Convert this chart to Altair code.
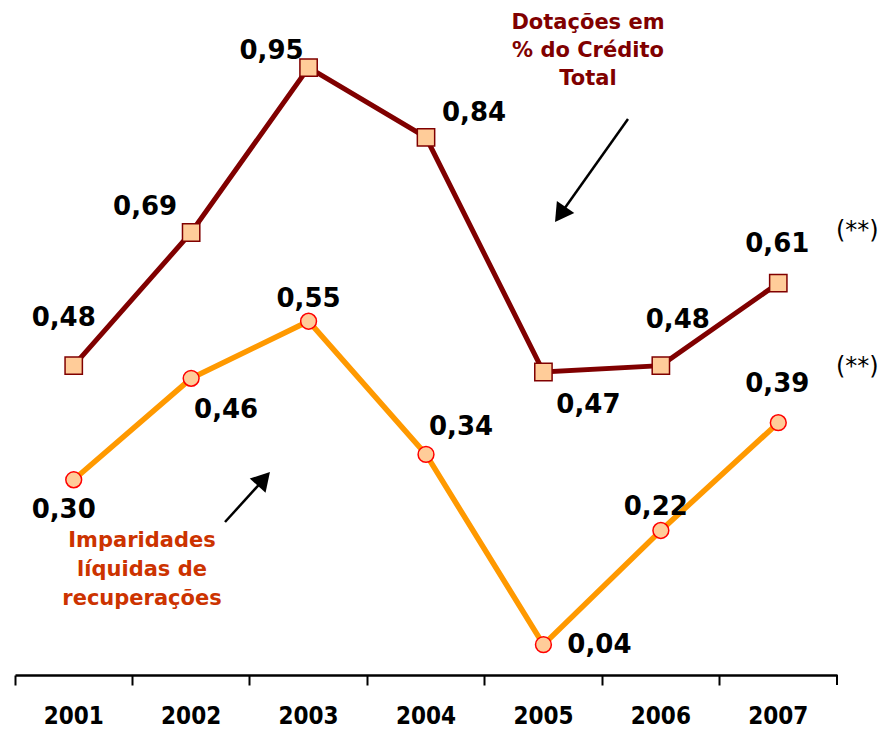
import altair as alt
import pandas as pd

# ---- data ----
years = ["2001", "2002", "2003", "2004", "2005", "2006", "2007"]
dotacoes = [0.48, 0.69, 0.95, 0.84, 0.47, 0.48, 0.61]
imparidades = [0.30, 0.46, 0.55, 0.34, 0.04, 0.22, 0.39]

# ---- layout for value labels (pixel offsets from each point) ----
dot_dx = [-10, -46, -37, 48, 45, 17, -1]
dot_dy = [-48, -25, -17, -24, 33, -46, -39]
imp_dx = [-10, 35, 0, 35, 56, -5, -1]
imp_dy = [30, 32, -22, -27, 0, -23, -39]

W, H = 822, 667
DARK_RED = "#800000"
ORANGE = "#FF9900"
FILL = "#FFCC99"
LABEL_FONT = "DejaVu Sans"

df_d = pd.DataFrame({"year": years, "value": dotacoes})
df_i = pd.DataFrame({"year": years, "value": imparidades})

x_enc = alt.X(
    "year:O",
    scale=alt.Scale(type="band", domain=years, paddingInner=0, paddingOuter=0),
    axis=alt.Axis(
        title=None, bandPosition=0, labelAngle=0,
        tickSize=10, tickWidth=2, tickColor="black",
        domainColor="black", domainWidth=2.5,
        labelFont="Liberation Sans Narrow, DejaVu Sans Condensed, sans-serif",
        labelFontSize=24, labelFontWeight="bold", labelColor="black",
        labelPadding=19, grid=False,
    ),
)
y_enc = alt.Y("value:Q", scale=alt.Scale(domain=[-0.0079, 1.044], nice=False, zero=False), axis=None)

lab_expr = "replace(format(datum.value, '.2f'), '.', ',')"

base_d = alt.Chart(df_d).encode(x=x_enc, y=y_enc)
base_i = alt.Chart(df_i).encode(x=x_enc, y=y_enc)

line_d = base_d.mark_line(color=DARK_RED, strokeWidth=5)
line_i = base_i.mark_line(color=ORANGE, strokeWidth=5.5)
pts_d = base_d.mark_square(color=FILL, stroke=DARK_RED, strokeWidth=1.5, size=300, opacity=1)
pts_i = base_i.mark_circle(color=FILL, stroke="#FF0000", strokeWidth=1.5, size=250, opacity=1)

labels = []
for base, dxs, dys in [(base_d, dot_dx, dot_dy), (base_i, imp_dx, imp_dy)]:
    for yr, dx, dy in zip(years, dxs, dys):
        labels.append(
            base.transform_filter(alt.datum.year == yr)
            .transform_calculate(label=lab_expr)
            .mark_text(dx=dx, dy=dy, font=LABEL_FONT, fontSize=26, fontWeight="bold",
                       color="black", baseline="middle", align="center")
            .encode(text="label:N")
        )

# "(**)" notes next to the 2007 values
notes = []
for base, dy in [(base_d, -52), (base_i, -56)]:
    notes.append(
        base.transform_filter(alt.datum.year == years[-1])
        .mark_text(dx=79, dy=dy, font=LABEL_FONT, fontSize=24, color="black",
                   baseline="middle", align="center")
        .encode(text=alt.value("(**)"))
    )

one = pd.DataFrame({"a": [0]})

end_tick = alt.Chart(one).mark_rule(color="black", strokeWidth=2).encode(
    x=alt.value(W), y=alt.value(H), y2=alt.value(H + 10)
)

ann_d = alt.Chart(one).mark_text(
    font=LABEL_FONT, fontSize=21, fontWeight="bold", color=DARK_RED,
    align="center", baseline="alphabetic", lineHeight=28,
).encode(x=alt.value(573), y=alt.value(21), text=alt.value(["Dotações em", "% do Crédito", "Total"]))

ann_i = alt.Chart(one).mark_text(
    font=LABEL_FONT, fontSize=21, fontWeight="bold", color="#CC3300",
    align="center", baseline="alphabetic", lineHeight=29,
).encode(x=alt.value(127), y=alt.value(539), text=alt.value(["Imparidades", "líquidas de", "recuperações"]))

arrow1_line = alt.Chart(one).mark_rule(color="black", strokeWidth=2.5).encode(
    x=alt.value(613), y=alt.value(111), x2=alt.value(547), y2=alt.value(204)
)
arrow1_head = alt.Chart(one).mark_point(shape="triangle-up", filled=True, color="black",
                                         opacity=1, size=450, angle=215).encode(
    x=alt.value(545.3), y=alt.value(206.5)
)
arrow2_line = alt.Chart(one).mark_rule(color="black", strokeWidth=2.5).encode(
    x=alt.value(210), y=alt.value(514), x2=alt.value(251), y2=alt.value(469)
)
arrow2_head = alt.Chart(one).mark_point(shape="triangle-up", filled=True, color="black",
                                         opacity=1, size=450, angle=42).encode(
    x=alt.value(248.8), y=alt.value(470.8)
)

chart = alt.layer(
    line_d, line_i, pts_d, pts_i, *labels, *notes, end_tick,
    ann_d, ann_i, arrow1_line, arrow1_head, arrow2_line, arrow2_head,
).properties(
    width=W, height=H, autosize="none",
    padding={"left": 7, "top": 0, "right": 42, "bottom": 56},
).configure_view(stroke=None)

chart.save("out.html", embed_options={"renderer": "svg", "actions": False})
